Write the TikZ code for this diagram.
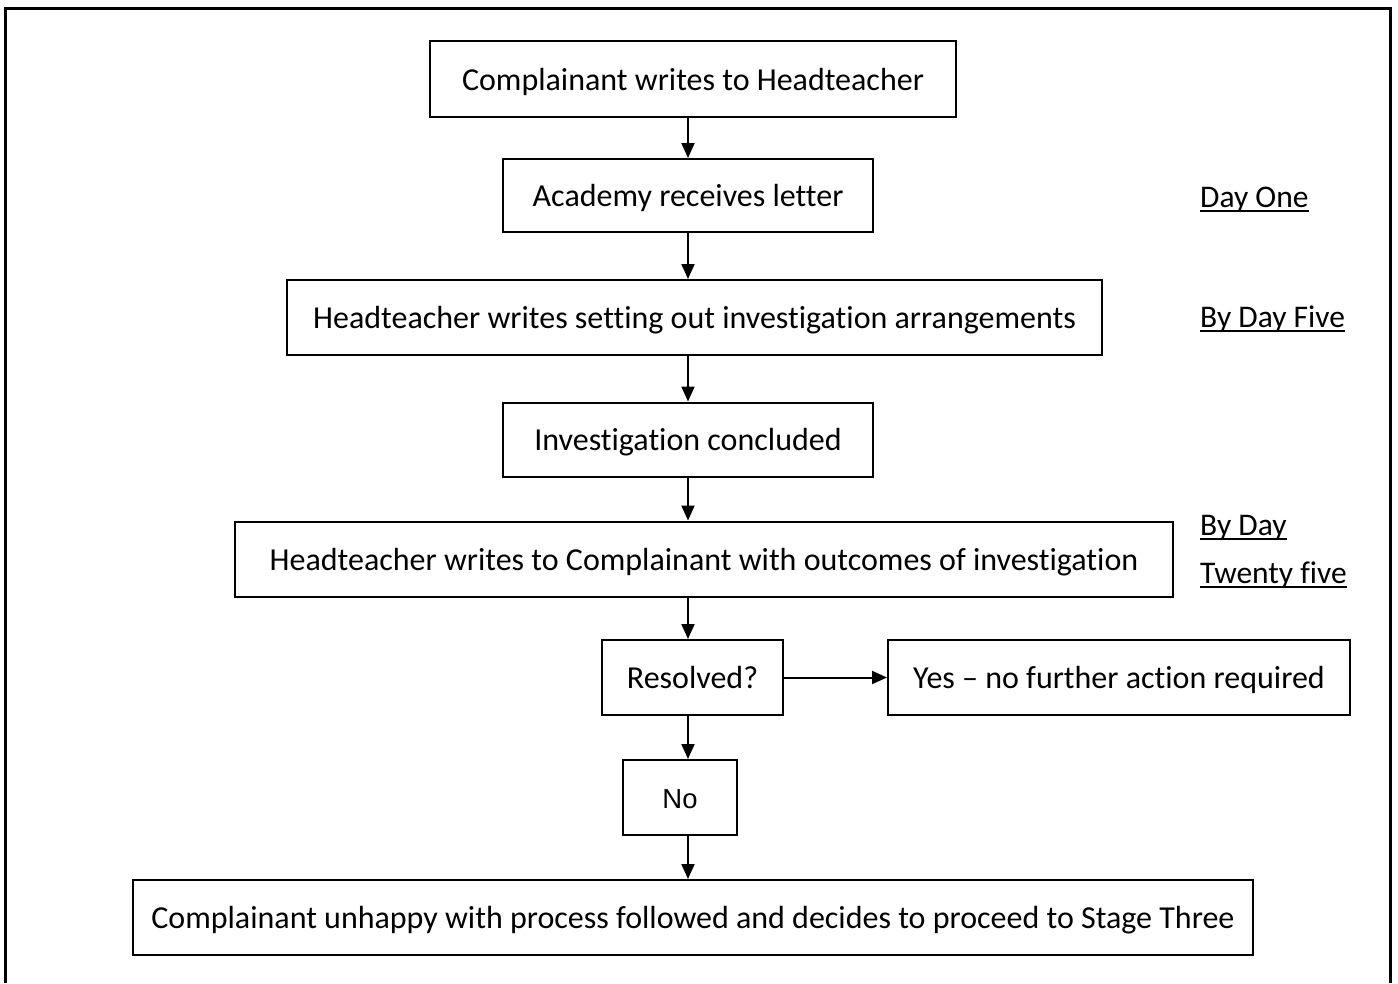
\documentclass[tikz,border=0pt]{standalone}
\usepackage{fontspec}
\setmainfont[Ligatures={NoCommon}]{Carlito}
\newfontfamily\arialfont{Liberation Sans}
\usetikzlibrary{arrows.meta}
\newcommand\myul[1]{\setbox0\hbox{#1}\rlap{\rule[-5pt]{\wd0}{2pt}}\box0}
\begin{document}
\begin{tikzpicture}[x=1pt,y=-1pt,
  every node/.style={font=\fontsize{31.5}{38}\selectfont},
  flowbox/.style={draw,line width=2pt,inner sep=0pt,text height=22pt,text depth=0pt,align=center,font=\fontsize{32}{38}\selectfont},
  arr/.style={line width=2pt,-{Triangle[length=15pt,width=13pt]}},
  daylbl/.style={anchor=base west,inner sep=0pt}]
\useasboundingbox (0,0) rectangle (1398,983);
\draw[line width=2.2pt] (5.5,983) -- (5.5,8.5) -- (1390.5,8.5) -- (1390.5,983);
\coordinate (spine) at (688,0);
\node[flowbox,minimum width=526pt,minimum height=76pt] (b1) at (693,79) {Complainant writes to Headteacher};
\node[flowbox,minimum width=370pt,minimum height=73pt] (b2) at (688,195.5) {Academy receives letter};
\node[flowbox,minimum width=815pt,minimum height=75pt] (b3) at (694.5,317.5) {Headteacher writes setting out investigation arrangements};
\node[flowbox,minimum width=370pt,minimum height=74pt] (b4) at (688,439.5) {Investigation concluded};
\node[flowbox,minimum width=938pt,minimum height=75pt] (b5) at (704,559) {Headteacher writes to Complainant with outcomes of investigation};
\node[flowbox,minimum width=181pt,minimum height=75pt] (b6) at (692.5,677.5) {Resolved?};
\node[flowbox,minimum width=462pt,minimum height=75pt] (b7) at (1119,677.5) {Yes -- no further action required};
\node[flowbox,minimum width=114pt,minimum height=75pt,font=\arialfont\fontsize{27.5}{32}\selectfont] (b8) at (680,797.5) {No};
\node[flowbox,minimum width=1120pt,minimum height=75pt] (b9) at (693,917.5) {Complainant unhappy with process followed and decides to proceed to Stage Three};
\draw[arr] (b1.south -| spine) -- (b2.north -| spine);
\draw[arr] (b2.south -| spine) -- (b3.north -| spine);
\draw[arr] (b3.south -| spine) -- (b4.north -| spine);
\draw[arr] (b4.south -| spine) -- (b5.north -| spine);
\draw[arr] (b5.south -| spine) -- (b6.north -| spine);
\draw[arr] (b6.east) -- (b7.west);
\draw[arr] (b6.south -| spine) -- (b8.north -| spine);
\draw[arr] (b8.south -| spine) -- (b9.north -| spine);
\node[daylbl] (d1) at (1200,207) {\myul{Day One}};
\node[daylbl] (d2) at (1200,327) {\myul{By Day Five}};
\node[daylbl] (d3) at (1200,535) {\myul{By Day}};
\node[daylbl] (d4) at (1200,583) {\myul{Twenty five}};
\end{tikzpicture}
\end{document}
